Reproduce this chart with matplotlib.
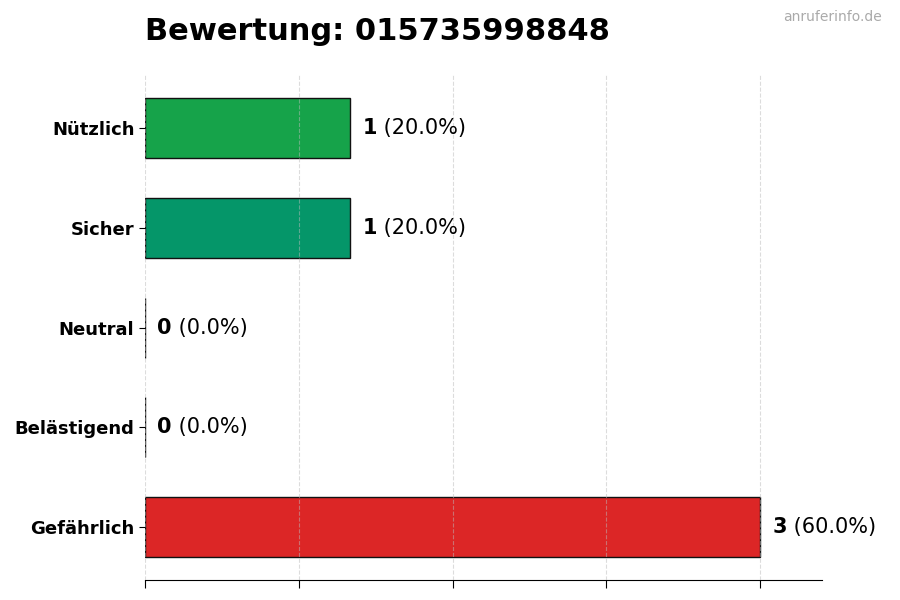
import matplotlib
matplotlib.use("Agg")
import matplotlib.pyplot as plt

# Ratings, top to bottom as shown
categories = ["Nützlich", "Sicher", "Neutral", "Belästigend", "Gefährlich"]
counts = [1, 1, 0, 0, 3]
colors = ["#16a34a", "#059669", "#6b7280", "#f97316", "#dc2626"]
title = "Bewertung: 015735998848"

total = sum(counts)
fig = plt.figure(figsize=(9, 6), dpi=100)
ax = fig.add_axes([0.161, 0.033, 0.752, 0.842])

ypos = list(range(len(categories)))[::-1]
ax.barh(ypos, counts, height=0.6, color=colors, edgecolor="#111111",
        linewidth=1, zorder=2)

ax.set_yticks(ypos)
ax.set_yticklabels(categories, fontsize=13, fontweight="bold")
ax.set_xlim(0, 3.3)
ax.set_xticks([0, 0.75, 1.5, 2.25, 3])
ax.set_xticklabels([])
ax.grid(axis="x", linestyle="--", color="#bbbbbb", alpha=0.5,
        linewidth=0.8, zorder=3)
ax.set_axisbelow(False)
for side in ("top", "right", "left"):
    ax.spines[side].set_visible(False)
ax.tick_params(axis="x", length=6)
ax.tick_params(axis="y", length=4)

# value labels: bold count then normal percentage
for y, c in zip(ypos, counts):
    pct = 100.0 * c / total if total else 0
    t = ax.text(c + 0.06, y, str(c), fontsize=15, fontweight="bold",
                va="center", ha="left", zorder=4)
    ax.annotate(f" ({pct:.1f}%)", xy=(1, 0.5), xycoords=t, fontsize=15,
                va="center", ha="left")

fig.text(0.161, 0.948, title, fontsize=22, fontweight="bold", ha="left", va="center")
fig.text(0.98, 0.971, "anruferinfo.de", fontsize=10, color="#aaaaaa",
         ha="right", va="center")

fig.savefig("out.png", dpi=100)
